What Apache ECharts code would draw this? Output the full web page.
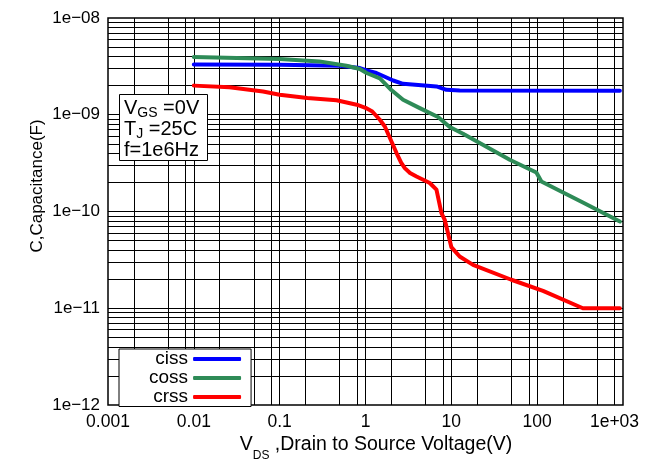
<!DOCTYPE html>
<html>
<head>
<meta charset="utf-8">
<script src="https://cdn.jsdelivr.net/npm/echarts@6.0.0/dist/echarts.min.js"></script>
<style>
  html, body { margin: 0; padding: 0; background: #fff; }
  #chart { width: 650px; height: 461px; }
</style>
</head>
<body>
<div id="chart"></div>
<script>
// Input capacitance vs. drain-source voltage
const cissV = [0.01, 0.1, 0.5, 0.86, 1.03, 1.34, 1.68, 2.1, 2.74, 6.71, 8.77, 12.5, 920];
const cissC = [3.31e-9, 3.28e-9, 3.21e-9, 3.04e-9, 2.87e-9, 2.70e-9, 2.47e-9, 2.26e-9, 2.09e-9, 1.96e-9, 1.81e-9, 1.78e-9, 1.77e-9];

// Output capacitance
const cossV = [0.01, 0.1, 0.29, 0.6, 0.86, 1.03, 1.47, 2.0, 2.74, 4.29, 7.0, 9.58, 13.7, 47.9, 97.9, 112, 341, 920];
const cossC = [3.95e-9, 3.77e-9, 3.56e-9, 3.21e-9, 2.97e-9, 2.70e-9, 2.38e-9, 1.8e-9, 1.43e-9, 1.17e-9, 9.47e-10, 7.46e-10, 6.36e-10, 3.43e-10, 2.53e-10, 2.04e-10, 1.24e-10, 7.88e-11];

// Reverse transfer capacitance
const crssV = [0.01, 0.026, 0.064, 0.1, 0.21, 0.46, 0.79, 1.0, 1.2, 1.47, 1.68, 2.3, 2.6, 2.87, 3.3, 3.93, 5.61, 6.71, 7.67, 8.38, 10, 12.5, 17.9, 50, 117, 341, 920];
const crssC = [2.0e-9, 1.92e-9, 1.74e-9, 1.61e-9, 1.49e-9, 1.41e-9, 1.27e-9, 1.18e-9, 1.08e-9, 8.88e-10, 7.57e-10, 4.02e-10, 3.2e-10, 2.81e-10, 2.5e-10, 2.30e-10, 1.97e-10, 1.68e-10, 9.62e-11, 8.2e-11, 4.29e-11, 3.43e-11, 2.81e-11, 1.97e-11, 1.51e-11, 1.0e-11, 1.0e-11];

const seriesNames = ['ciss', 'coss', 'crss'];
const seriesColors = ['#0000ff', '#2e8b57', '#ff0000'];

// Axis tick labels, one per decade
const xTickLabels = ['0.001', '0.01', '0.1', '1', '10', '100', '1e+03'];
const yTickLabels = ['1e\u221212', '1e\u221211', '1e\u221210', '1e\u221209', '1e\u221208'];

// Grid-line mantissas within each decade
const xGridSteps = [1, 2, 5, 8];
const yGridSteps = [1, 2, 3, 4, 5, 6, 7, 8, 9];
const xDecades = [-3, -2, -1, 0, 1, 2];
const yDecades = [-12, -11, -10, -9];

const FONT = "'Liberation Sans', Arial, Helvetica, sans-serif";

const xGridValues = [];
xDecades.forEach(d => xGridSteps.forEach(m => {
  if (!(d === -3 && m === 1)) xGridValues.push(m * Math.pow(10, d));
}));
const yGridValues = [];
yDecades.forEach(d => yGridSteps.forEach(m => {
  if (!(d === -12 && m === 1)) yGridValues.push(m * Math.pow(10, d));
}));

const pairs = (xs, ys) => xs.map((x, i) => [x, ys[i]]);
const curveData = [pairs(cissV, cissC), pairs(cossV, cossC), pairs(crssV, crssC)];

const chart = echarts.init(document.getElementById('chart'), null, { renderer: 'canvas' });

const curves = seriesNames.map((name, i) => ({
  name: name,
  type: 'line',
  data: curveData[i],
  showSymbol: false,
  symbol: 'none',
  z: 5,
  lineStyle: { color: seriesColors[i], width: 4, cap: 'round', join: 'round' },
  itemStyle: { color: seriesColors[i] }
}));

// Log grid drawn as mark lines on an empty helper series
const gridSeries = {
  name: 'grid',
  type: 'line',
  data: [],
  z: 1,
  silent: true,
  markLine: {
    silent: true,
    precision: 20,
    symbol: ['none', 'none'],
    label: { show: false },
    animation: false,
    lineStyle: { color: '#000', width: 1, type: 'solid' },
    emphasis: { disabled: true },
    data: xGridValues.map(v => ({ xAxis: v })).concat(yGridValues.map(v => ({ yAxis: v })))
  }
};

const subRich = (main, sub, pad) => ({
  m: { fontSize: main, fontFamily: FONT, fill: '#000' },
  s: { fontSize: sub, fontFamily: FONT, fill: '#000', padding: [pad, 0, 0, 0] }
});

chart.setOption({
  animation: false,
  backgroundColor: '#fff',
  grid: {
    left: 108, right: 27, top: 18, bottom: 56,
    show: true, borderColor: '#000', borderWidth: 1.5, backgroundColor: 'transparent'
  },
  xAxis: {
    type: 'log',
    logBase: 10,
    min: 0.001,
    max: 1000,
    splitNumber: 6,
    axisLine: { show: false },
    axisTick: { show: false },
    splitLine: { show: false },
    axisLabel: {
      color: '#000',
      fontSize: 17.5,
      fontFamily: FONT,
      margin: 8,
      formatter: function (v) {
        const i = Math.round(Math.log10(v)) + 3;
        return i === xTickLabels.length - 1 ? '{last|' + xTickLabels[i] + '}' : xTickLabels[i];
      },
      rich: {
        last: { fontSize: 17.5, fontFamily: FONT, color: '#000', padding: [0, 17, 0, 0] }
      }
    }
  },
  yAxis: {
    type: 'log',
    logBase: 10,
    min: 1e-12,
    max: 1e-8,
    splitNumber: 4,
    axisLine: { show: false },
    axisTick: { show: false },
    splitLine: { show: false },
    axisLabel: {
      color: '#000',
      fontSize: 17,
      fontFamily: FONT,
      margin: 8,
      formatter: function (v) {
        return yTickLabels[Math.round(Math.log10(v)) + 12];
      }
    }
  },
  legend: {
    data: seriesNames,
    orient: 'vertical',
    align: 'right',
    left: 119,
    top: 349,
    itemWidth: 48,
    itemHeight: 4,
    itemGap: 0,
    icon: 'roundRect',
    padding: [0.5, 10, 0, 30],
    borderColor: '#000',
    borderWidth: 1,
    backgroundColor: '#fff',
    selectedMode: false,
    z: 10,
    textStyle: { color: '#000', fontSize: 19, fontFamily: FONT, lineHeight: 18 }
  },
  graphic: [
    {
      type: 'text',
      x: 37, y: 186,
      rotation: Math.PI / 2,
      style: {
        text: 'C,Capacitance(F)',
        fill: '#000',
        font: '17px ' + FONT,
        align: 'center',
        verticalAlign: 'middle'
      }
    },
    {
      type: 'text',
      x: 376, y: 445,
      style: {
        text: '{m|V}{s|DS}{m| ,Drain to Source Voltage(V)}',
        align: 'center',
        verticalAlign: 'middle',
        rich: subRich(19.5, 12, 22)
      }
    },
    // Test-condition box
    {
      type: 'rect',
      z: 100,
      shape: { x: 119.5, y: 94.5, width: 88, height: 66 },
      style: { fill: '#fff', stroke: '#000', lineWidth: 1 }
    },
    {
      type: 'text', x: 124, y: 108.3, z: 101,
      style: {
        text: '{m|V}{s|GS}{m| =0V}', align: 'left', verticalAlign: 'middle',
        rich: subRich(20, 14, 10)
      }
    },
    {
      type: 'text', x: 124, y: 129.2, z: 101,
      style: {
        text: '{m|T}{s|J}{m| =25C}', align: 'left', verticalAlign: 'middle',
        rich: subRich(20, 14, 10)
      }
    },
    {
      type: 'text', x: 124, y: 150.8, z: 101,
      style: {
        text: 'f=1e6Hz', align: 'left', verticalAlign: 'middle',
        font: '20px ' + FONT, fill: '#000'
      }
    }
  ],
  series: [gridSeries].concat(curves)
});
</script>
</body>
</html>
